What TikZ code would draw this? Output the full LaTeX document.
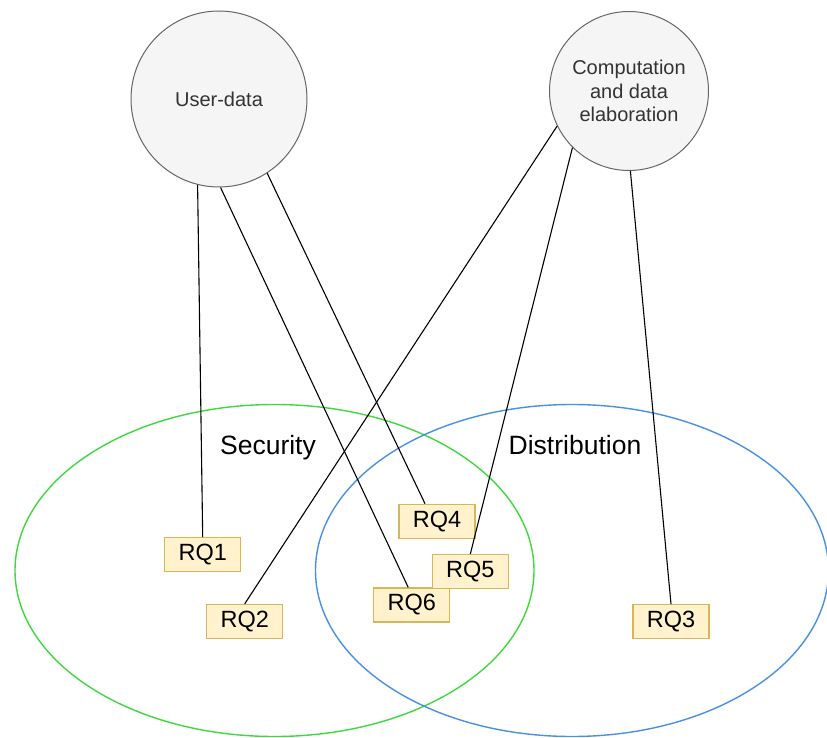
\documentclass[tikz,border=0pt]{standalone}
\usepackage{fontspec}
\setmainfont{Liberation Sans}
\usetikzlibrary{calc}
\definecolor{cfill}{HTML}{F5F5F5}
\definecolor{cline}{HTML}{666666}
\definecolor{ctext}{HTML}{333333}
\definecolor{bfill}{HTML}{FFF2CC}
\definecolor{bline}{HTML}{D6B656}
\definecolor{sgreen}{HTML}{3FD83F}
\definecolor{dblue}{HTML}{4A90E2}
\tikzset{
  topic/.style={circle, draw=cline, fill=cfill, line width=1pt, inner sep=0pt, text=ctext, align=center, font=\fontsize{20}{23.4}\selectfont},
  rqbox/.style={rectangle, draw=bline, fill=bfill, line width=1.3pt, minimum width=76pt, minimum height=34pt, inner sep=0pt, font=\fontsize{23.5}{28}\selectfont},
  link/.style={draw=black, line width=1.1pt},
  setlabel/.style={anchor=base, font=\fontsize{26.5}{30}\selectfont}
}
\begin{document}
\begin{tikzpicture}[x=1pt, y=-1pt]
\useasboundingbox (0,0) rectangle (827,738);
\begin{scope}
\clip (0,0) rectangle (827,738);
\draw[sgreen, line width=1.4pt] (274.5,570.5) ellipse [x radius=259.5pt, y radius=166pt];
\draw[dblue, line width=1.4pt] (572,570.5) ellipse [x radius=256.5pt, y radius=166pt];
\end{scope}
\node[setlabel] (seclab) at (268,454) {Security};
\node[setlabel] (distlab) at (575,454) {Distribution};

\node[topic, minimum size=176pt] (ud) at (219,99) {User-data};
\node[topic, minimum size=159pt] (cd) at (629,91) {Computation\\and data\\elaboration};

\node[rqbox] (rq1) at (202.7,554.7) {RQ1};
\node[rqbox] (rq2) at (244.7,621.5) {RQ2};
\node[rqbox] (rq3) at (671,621.7) {RQ3};
\node[rqbox] (rq4) at (437,521.3) {RQ4};
\node[rqbox] (rq6) at (411.7,605) {RQ6};
\node[rqbox] (rq5) at (470.3,571.7) {RQ5};

\path[link] (ud.256) -- (rq1.north);
\path[link] (ud.271) -- ($(rq6.north)+(-3.5,0)$);
\path[link] (ud.303) -- ($(rq4.north)+(-12,0)$);
\path[link] (cd.206) -- (rq2.north);
\path[link] (cd.225.5) -- (rq5.north);
\path[link] (cd.271) -- (rq3.north);
\end{tikzpicture}
\end{document}
